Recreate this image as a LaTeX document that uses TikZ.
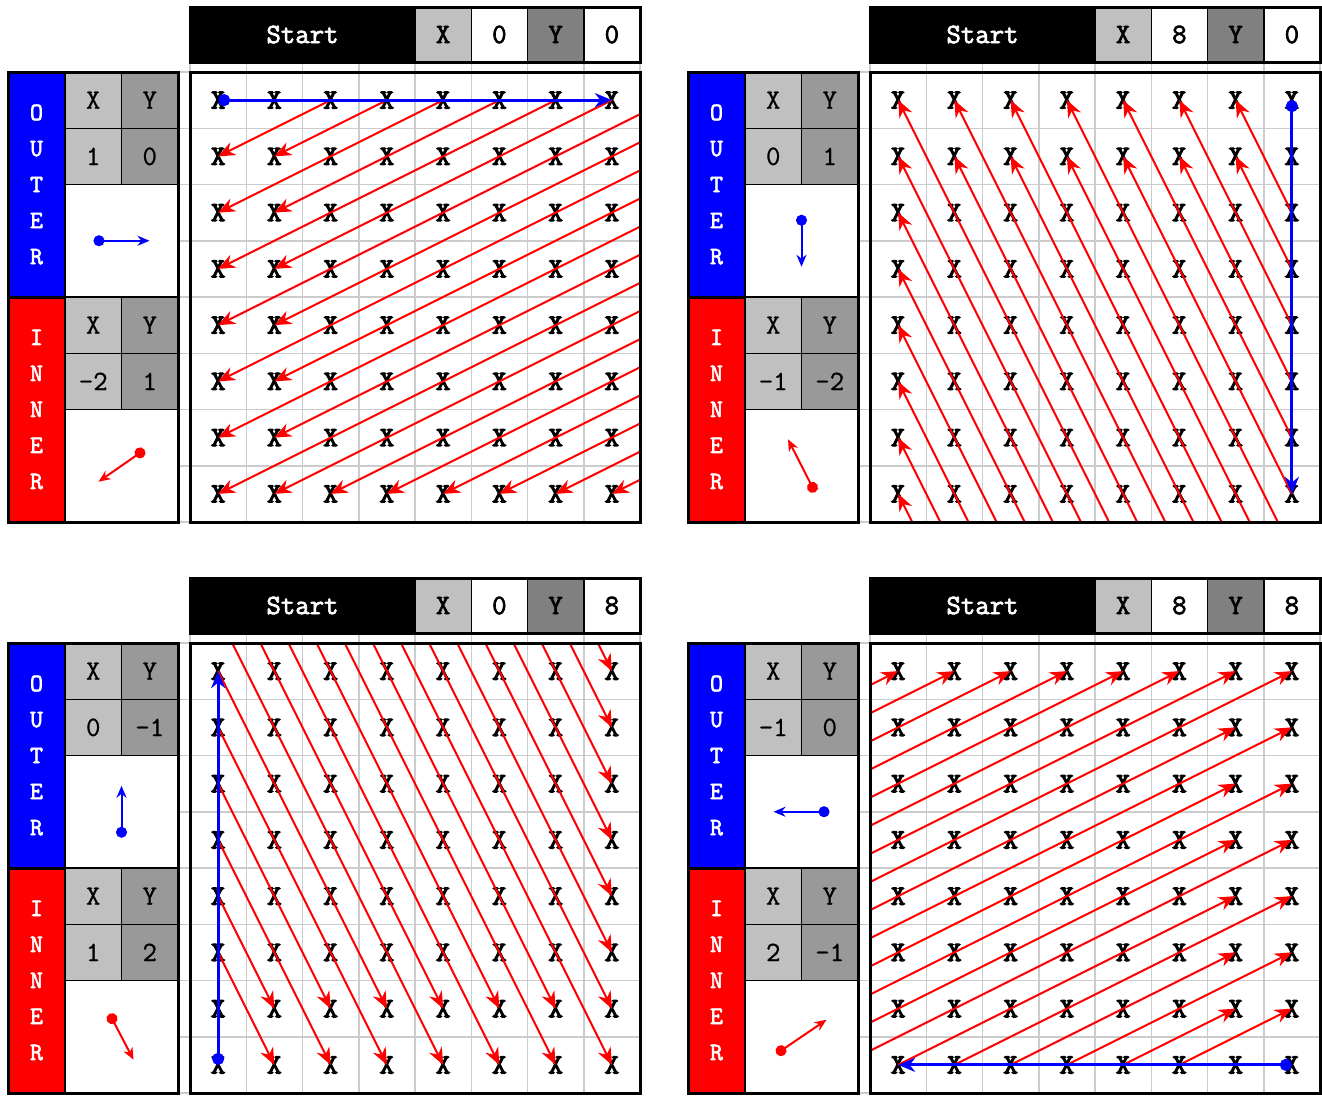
\documentclass[tikz,border=0pt]{standalone}
\usepackage{fontspec}
\usepackage{tikz}
\usetikzlibrary{positioning,arrows.meta,calc}

\newfontfamily\courbold[FakeBold=2.5]{Latin Modern Mono}
\newfontfamily\courmark[FakeBold=4]{Latin Modern Mono}
\newfontfamily\courtab[FakeBold=0.8]{Latin Modern Mono}
\definecolor{xgray}{HTML}{C0C0C0}
\definecolor{ygray}{HTML}{808080}
\definecolor{ytab}{HTML}{999999}
\definecolor{faint}{HTML}{CCCCCC}
\definecolor{outblue}{HTML}{0000FF}
\definecolor{inred}{HTML}{FF0000}

\begin{document}
\begin{tikzpicture}[
  x=1pt, y=-1pt,
  frame/.style={draw=black, line width=3pt},
  bgline/.style={draw=faint, line width=1.5pt},
  hstart/.style={draw=black, fill=black, text=white, line width=1.5pt, inner sep=0pt,
                 outer sep=0pt, minimum width=225pt, minimum height=55pt,
                 font=\courbold\fontsize{28}{28}\selectfont},
  hcell/.style={draw=black, line width=1.5pt, inner sep=0pt, outer sep=0pt,
                minimum width=56.25pt, minimum height=55pt,
                font=\courbold\fontsize{28}{28}\selectfont},
  lab/.style={draw=black, line width=3pt, inner sep=0pt, outer sep=0pt, text=white,
              align=center, minimum width=57pt, minimum height=225pt,
              font=\courbold\fontsize{25}{36}\selectfont},
  tcell/.style={draw=black, line width=1.5pt, inner sep=0pt, outer sep=0pt,
                minimum width=56.5pt, minimum height=56.25pt,
                font=\courtab\fontsize{28}{28}\selectfont},
  pcell/.style={draw=black, line width=1.5pt, fill=white, inner sep=0pt, outer sep=0pt,
                minimum width=113pt, minimum height=112.5pt},
  xmark/.style={inner sep=0pt, font=\courmark\fontsize{28}{28}\selectfont},
  outarr/.style={draw=outblue, line width=3pt,
                 {Circle[length=12pt]}-{Stealth[length=17pt,width=14pt]}},
  inarr/.style={draw=inred, line width=2pt, -{Stealth[length=17pt,width=14pt]}},
  opict/.style={draw=outblue, line width=2pt,
                {Circle[length=11pt]}-{Stealth[length=12pt,width=10pt]}},
  ipict/.style={draw=inred, line width=2pt,
                {Circle[length=11pt]}-{Stealth[length=12pt,width=10pt]}},
]
\fill[white] (0,0) rectangle (1322,1095);
\useasboundingbox (0,0) rectangle (1322,1095);

% one panel per walk: offset, start label, start cell, outer step, inner step, pictograms
\foreach \p/\ox/\oy/\hx/\hy/\sx/\sy/\ux/\uy/\vx/\vy/\ax/\ay/\bx/\by in {
    tl/0/0/0/0/0/0/1/0/-2/1/56/0/-46/32,
    tr/680/0/8/0/7/0/0/1/-1/-2/0/52/-27/-53,
    bl/0/571/0/8/0/7/0/-1/1/2/0/-52/24/46,
    br/680/571/8/8/7/7/-1/0/2/-1/-56/0/50/-34} {
\begin{scope}[shift={(\ox,\oy)}]
  % faint table lines
  \foreach \k in {0,...,8} {
    \draw[bgline] ({190+56.25*\k},62) -- ({190+56.25*\k},522);
    \draw[bgline] (178,{72+56.25*\k}) -- (640,{72+56.25*\k});
  }

  % start header
  \node[hstart] (\p-start) at (302.5,34.5) {Start};
  \node[hcell, fill=xgray, right=0pt of \p-start] (\p-hx) {X};
  \node[hcell, fill=white, right=0pt of \p-hx] (\p-hxv) {\hx};
  \node[hcell, fill=ygray, right=0pt of \p-hxv] (\p-hy) {Y};
  \node[hcell, fill=white, right=0pt of \p-hy] (\p-hyv) {\hy};
  \draw[frame] (\p-start.north west) rectangle (\p-hyv.south east);

  % outer / inner table
  \node[lab, fill=outblue] (\p-outer) at (36.5,184.5) {O\\U\\T\\E\\R};
  \node[tcell, fill=xgray, anchor=north west] (\p-ox) at (\p-outer.north east) {X};
  \node[tcell, fill=ytab, right=0pt of \p-ox] (\p-oy) {Y};
  \node[tcell, fill=xgray, below=0pt of \p-ox] (\p-oxv) {\ux};
  \node[tcell, fill=ytab, below=0pt of \p-oy] (\p-oyv) {\uy};
  \node[pcell, anchor=north west] (\p-opic) at (\p-oxv.south west) {};
  \node[lab, fill=inred, below=0pt of \p-outer] (\p-inner) {I\\N\\N\\E\\R};
  \node[tcell, fill=xgray, anchor=north west] (\p-ix) at (\p-inner.north east) {X};
  \node[tcell, fill=ytab, right=0pt of \p-ix] (\p-iy) {Y};
  \node[tcell, fill=xgray, below=0pt of \p-ix] (\p-ixv) {\vx};
  \node[tcell, fill=ytab, below=0pt of \p-iy] (\p-iyv) {\vy};
  \node[pcell, anchor=north west] (\p-ipic) at (\p-ixv.south west) {};
  \draw[frame] (\p-outer.north west) rectangle (\p-ipic.south east);
  \draw[opict] ($(\p-opic.center)+(\ax/-2,\ay/-2)$) -- ($(\p-opic.center)+(\ax/2,\ay/2)$);
  \draw[ipict] ($(\p-ipic.center)+(\bx/-2,\by/-2)$) -- ($(\p-ipic.center)+(\bx/2,\by/2)$);

  % grid of cells
  \foreach \i in {0,...,7}
    \foreach \j in {0,...,7}
      \node[xmark] (\p-\i-\j) at ({218.125+56.25*\i},{100.125+56.25*\j}) {X};

  % inner walks, clipped to the grid
  \begin{scope}
    \clip (190,72) rectangle (640,522);
    \foreach \t in {2,...,21} {
      \pgfmathtruncatemacro\kk{min(7,floor(\t/2))}
      \pgfmathtruncatemacro\oi{\sx+\t*(\ux)}
      \pgfmathtruncatemacro\oj{\sy+\t*(\uy)}
      \pgfmathtruncatemacro\ei{\oi+\kk*(\vx)}
      \pgfmathtruncatemacro\ej{\oj+\kk*(\vy)}
      \ifnum\t<8
        \def\from{\p-\oi-\oj.center}
      \else
        \coordinate (\p-o\t) at ({218.125+56.25*(\oi)},{100.125+56.25*(\oj)});
        \def\from{\p-o\t}
      \fi
      \draw[inarr] (\from) -- (\p-\ei-\ej.center);
    }
  \end{scope}

  % outer walk
  \pgfmathtruncatemacro\lasti{\sx+7*(\ux)}
  \pgfmathtruncatemacro\lastj{\sy+7*(\uy)}
  \draw[outarr] (\p-\sx-\sy.center) -- (\p-\lasti-\lastj.center);

  \draw[frame] (190,72) rectangle (640,522);
\end{scope}
}
\end{tikzpicture}
\end{document}
